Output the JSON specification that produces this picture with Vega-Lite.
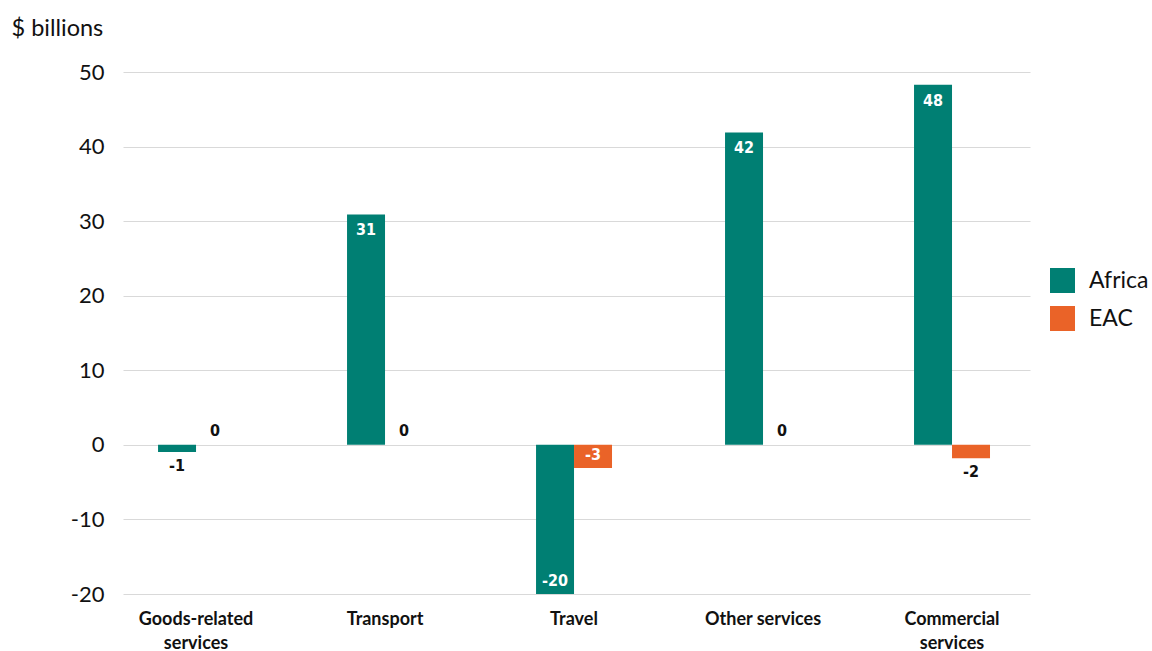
{
  "$schema": "https://vega.github.io/schema/vega-lite/v6.json",
  "width": 907,
  "height": 522,
  "autosize": {"type": "none"},
  "padding": {"left": 123, "top": 72, "right": 122, "bottom": 57},
  "config": {
    "view": {"stroke": null},
    "font": "Lato",
    "axis": {"labelFont": "Lato", "titleFont": "Lato"}
  },
  "data": {
    "values": [
      {"category": "Goods-related services", "series": "Africa", "value": -0.95},
      {"category": "Goods-related services", "series": "EAC", "value": 0},
      {"category": "Transport", "series": "Africa", "value": 30.9},
      {"category": "Transport", "series": "EAC", "value": 0},
      {"category": "Travel", "series": "Africa", "value": -20},
      {"category": "Travel", "series": "EAC", "value": -3.1},
      {"category": "Other services", "series": "Africa", "value": 41.9},
      {"category": "Other services", "series": "EAC", "value": 0},
      {"category": "Commercial services", "series": "Africa", "value": 48.3},
      {"category": "Commercial services", "series": "EAC", "value": -1.8}
    ]
  },
  "transform": [{"calculate": "toString(round(datum.value))", "as": "label"}],
  "encoding": {
    "x": {
      "field": "category",
      "type": "nominal",
      "sort": ["Goods-related services", "Transport", "Travel", "Other services", "Commercial services"],
      "scale": {"paddingInner": 0.598, "paddingOuter": 0.1985, "align": 0.467},
      "axis": {
        "title": null,
        "labelAngle": 0,
        "domain": false,
        "ticks": false,
        "labelPadding": 16,
        "labelFontSize": 18,
        "labelFontWeight": "bold",
        "labelColor": "#111111",
        "labelLineHeight": 24,
        "labelExpr": "datum.label == 'Goods-related services' ? ['Goods-related','services'] : datum.label == 'Commercial services' ? ['Commercial','services'] : datum.label"
      }
    },
    "xOffset": {"field": "series", "type": "nominal", "sort": ["Africa", "EAC"]},
    "y": {
      "field": "value",
      "type": "quantitative",
      "scale": {"domain": [-20, 50], "nice": false},
      "axis": {
        "values": [-20, -10, 0, 10, 20, 30, 40, 50],
        "labelExpr": "toString(datum.value)",
        "title": "$ billions",
        "titleAngle": 0,
        "titleAlign": "left",
        "titleBaseline": "middle",
        "titleX": -112,
        "titleY": -44,
        "titleFontSize": 23.5,
        "titleFontWeight": "normal",
        "titleColor": "#111111",
        "labelFontSize": 22,
        "labelColor": "#111111",
        "labelPadding": 19,
        "ticks": false,
        "domain": false,
        "gridColor": "#d9d9d9",
        "gridWidth": 1.2
      }
    }
  },
  "layer": [
    {
      "mark": {"type": "bar"},
      "encoding": {
        "color": {
          "field": "series",
          "type": "nominal",
          "scale": {"domain": ["Africa", "EAC"], "range": ["#007F73", "#EA6328"]},
          "legend": {
            "title": null,
            "orient": "none",
            "legendX": 927,
            "legendY": 196,
            "symbolType": "square",
            "symbolSize": 625,
            "symbolStrokeWidth": 0,
            "symbolOpacity": 1,
            "labelFontSize": 23,
            "labelColor": "#111111",
            "labelOffset": 14,
            "rowPadding": 13,
            "labelFont": "Lato"
          }
        }
      }
    },
    {
      "transform": [{"filter": "datum.value >= 3"}],
      "mark": {"type": "text", "baseline": "top", "dy": 8, "color": "white", "font": "DejaVu Sans Condensed, Open Sans", "fontWeight": "bold", "fontSize": 16},
      "encoding": {"text": {"field": "label", "type": "nominal"}}
    },
    {
      "transform": [{"filter": "datum.value <= -3"}],
      "mark": {"type": "text", "baseline": "bottom", "dy": -5, "color": "white", "font": "DejaVu Sans Condensed, Open Sans", "fontWeight": "bold", "fontSize": 16},
      "encoding": {"text": {"field": "label", "type": "nominal"}}
    },
    {
      "transform": [{"filter": "datum.value >= 0 && datum.value < 3"}],
      "mark": {"type": "text", "baseline": "bottom", "dy": -6, "color": "#111111", "font": "DejaVu Sans Condensed, Open Sans", "fontWeight": "bold", "fontSize": 16},
      "encoding": {"text": {"field": "label", "type": "nominal"}}
    },
    {
      "transform": [{"filter": "datum.value < 0 && datum.value > -3"}],
      "mark": {"type": "text", "baseline": "top", "dy": 6, "color": "#111111", "font": "DejaVu Sans Condensed, Open Sans", "fontWeight": "bold", "fontSize": 16},
      "encoding": {"text": {"field": "label", "type": "nominal"}}
    }
  ]
}
